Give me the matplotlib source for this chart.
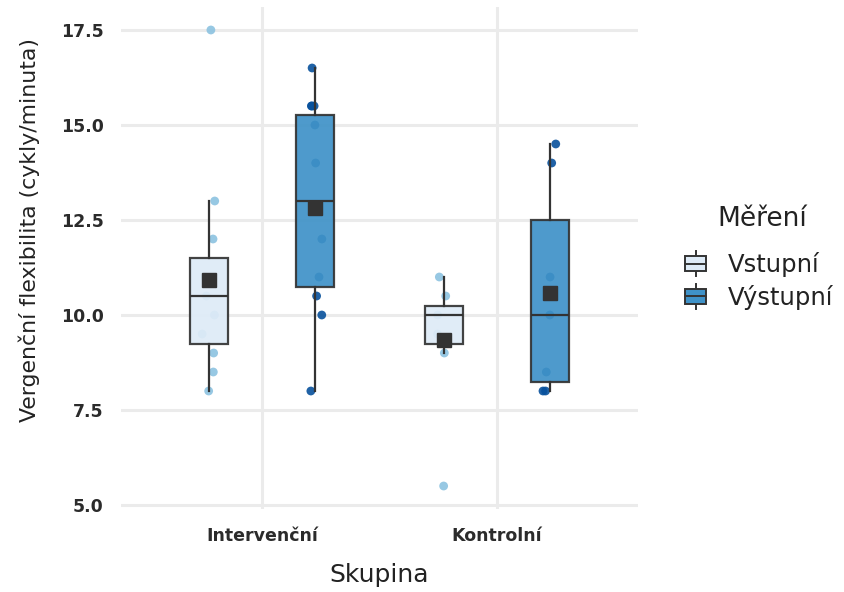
import numpy as np
import matplotlib
matplotlib.use("Agg")
import matplotlib.pyplot as plt
from matplotlib.patches import Rectangle
from matplotlib.lines import Line2D
from matplotlib.legend_handler import HandlerBase

plt.rcParams['font.family'] = ['DejaVu Sans']

# Data
groups = ["Intervenční", "Kontrolní"]
measures = ["Vstupní", "Výstupní"]

# box statistics per group, order: Vstupní, Výstupní
q1 = {"Intervenční": [9.25, 10.75], "Kontrolní": [9.25, 8.25]}
med = {"Intervenční": [10.5, 13.0], "Kontrolní": [10.0, 10.0]}
q3 = {"Intervenční": [11.5, 15.25], "Kontrolní": [10.25, 12.5]}
whislo = {"Intervenční": [8.0, 8.0], "Kontrolní": [9.0, 8.0]}
whishi = {"Intervenční": [13.0, 16.5], "Kontrolní": [11.0, 14.5]}
means = {"Intervenční": [10.92, 12.82], "Kontrolní": [9.35, 10.57]}

# raw observations
obs = {
    ("Intervenční", "Vstupní"): [17.5, 13.0, 12.0, 11.0, 10.5, 10.0, 9.5, 9.0, 8.5, 8.0],
    ("Intervenční", "Výstupní"): [16.5, 15.5, 15.5, 15.5, 15.0, 14.0, 12.0, 11.0, 10.5, 10.0, 8.0],
    ("Kontrolní", "Vstupní"): [11.0, 10.5, 10.0, 9.5, 9.0, 5.5],
    ("Kontrolní", "Výstupní"): [14.5, 14.0, 11.0, 10.0, 8.5, 8.0, 8.0],
}

box_fill = {"Vstupní": "#deebf7", "Výstupní": "#3f92c8"}
point_col = {"Vstupní": "#8cc2e0", "Výstupní": "#08519c"}
edge = "#333333"
dodge = 0.225
box_w = 0.16


class BoxKey(HandlerBase):
    # small boxplot glyph for the legend
    def create_artists(self, legend, orig_handle, xdescent, ydescent,
                       width, height, fontsize, trans):
        x0, y0 = -xdescent, -ydescent
        w, h = width, height
        whisk = Line2D([x0 + w / 2] * 2, [y0 - h * 0.3, y0 + h * 1.3],
                       color=edge, lw=1.4, transform=trans)
        rect = Rectangle((x0 + w * 0.08, y0), w * 0.84, h,
                         facecolor=orig_handle.get_facecolor(),
                         edgecolor=edge, lw=1.4, transform=trans)
        mid = Line2D([x0 + w * 0.08, x0 + w * 0.92], [y0 + h / 2] * 2,
                     color=edge, lw=1.4, transform=trans)
        return [whisk, rect, mid]


fig = plt.figure(figsize=(8.45, 5.92), dpi=100)
ax = fig.add_axes([121 / 845, 1 - 509 / 592, (638 - 121) / 845, (509 - 7) / 592])

rng = np.random.default_rng(7)
for gi, g in enumerate(groups):
    for mi, m in enumerate(measures):
        pos = gi + 1 + (dodge if mi else -dodge)
        vals = np.array(obs[(g, m)])
        xs = pos + rng.uniform(-0.03, 0.03, len(vals))
        ax.scatter(xs, vals, s=40, color=point_col[m], edgecolor='none',
                   alpha=0.9, zorder=2)
        stats = [dict(med=med[g][mi], q1=q1[g][mi], q3=q3[g][mi],
                      whislo=whislo[g][mi], whishi=whishi[g][mi], fliers=[])]
        ax.bxp(stats, positions=[pos], widths=box_w, showcaps=False,
               patch_artist=True, manage_ticks=False,
               boxprops=dict(facecolor=box_fill[m], edgecolor=edge, lw=1.6, alpha=0.92),
               medianprops=dict(color=edge, lw=1.6),
               whiskerprops=dict(color=edge, lw=1.6), zorder=3)
        ax.plot([pos], [means[g][mi]], marker='s', ms=10.5, color=edge,
                linestyle='none', zorder=4)

ax.set_xlim(0.4, 2.6)
ax.set_ylim(4.895, 18.105)
ax.set_xticks([1, 2])
ax.set_xticklabels(groups)
ax.set_yticks([5.0, 7.5, 10.0, 12.5, 15.0, 17.5])
ax.set_yticklabels(["5.0", "7.5", "10.0", "12.5", "15.0", "17.5"])
ax.tick_params(length=0, labelsize=12.5, labelcolor='#2b2b2b')
ax.tick_params(axis='y', pad=12.5)
ax.tick_params(axis='x', pad=13)
for lab in ax.get_xticklabels() + ax.get_yticklabels():
    lab.set_fontweight('bold')
ax.grid(True, color='#ebebeb', lw=2.2)
ax.set_axisbelow(True)
for s in ax.spines.values():
    s.set_visible(False)

ax.set_xlabel("Skupina", fontsize=18, color='#222222', labelpad=13)
ax.set_ylabel("Vergenční flexibilita (cykly/minuta)", fontsize=15.8, color='#222222')
ax.yaxis.set_label_coords(-0.157, 0.556)

# legend: title as its own text, entries below it
fig.text(762 / 845, 1 - 219 / 592, "Měření", ha='center', va='center',
         fontsize=19, color='#222222')
handles = [Rectangle((0, 0), 1, 1, facecolor=box_fill[m]) for m in measures]
leg = fig.legend(handles, measures, handler_map={Rectangle: BoxKey()},
                 loc='center left', bbox_to_anchor=(683 / 845, 1 - 281 / 592),
                 frameon=False, fontsize=17.5, handlelength=1.05, handleheight=0.6,
                 handletextpad=0.8, labelspacing=0.32, borderpad=0, borderaxespad=0)
for t in leg.get_texts():
    t.set_color('#222222')

fig.savefig("out.png", dpi=100)
